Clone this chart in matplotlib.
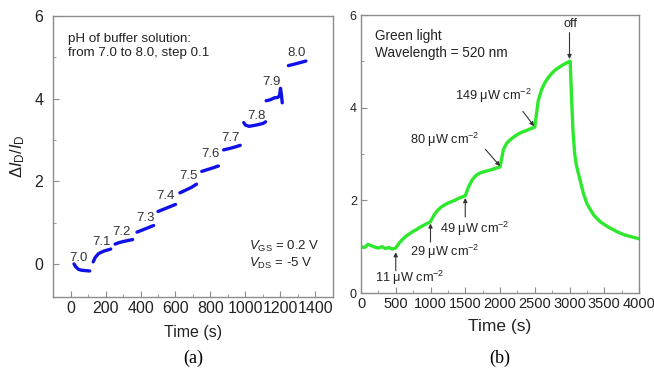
import matplotlib
matplotlib.use('Agg')
import matplotlib.pyplot as plt
from matplotlib.ticker import MultipleLocator

plt.rcParams['font.family'] = ['Liberation Sans', 'DejaVu Sans']
plt.rcParams['mathtext.fontset'] = 'custom'
plt.rcParams['mathtext.rm'] = 'Liberation Sans'
plt.rcParams['mathtext.it'] = 'Liberation Sans:italic'
plt.rcParams['mathtext.bf'] = 'Liberation Sans:bold'

# ---- panel (a): pH steps, one short segment per buffer
ph_labels = ['7.0', '7.1', '7.2', '7.3', '7.4', '7.5', '7.6', '7.7', '7.8', '7.9', '8.0']
ph_times = [
    [20, 30, 45, 60, 80, 110],
    [130, 140, 160, 190, 230],
    [255, 280, 310, 355],
    [380, 410, 440, 475],
    [500, 530, 565, 600],
    [625, 655, 690, 720],
    [750, 780, 810, 845],
    [875, 905, 940, 970],
    [990, 1000, 1020, 1060, 1100, 1115],
    [1118, 1140, 1165, 1185, 1195, 1200, 1205, 1210],
    [1245, 1275, 1310, 1345],
]
ph_values = [
    [0.0, -0.07, -0.13, -0.15, -0.16, -0.17],
    [0.05, 0.15, 0.25, 0.31, 0.36],
    [0.48, 0.52, 0.55, 0.59],
    [0.77, 0.82, 0.87, 0.93],
    [1.27, 1.32, 1.38, 1.44],
    [1.72, 1.78, 1.85, 1.93],
    [2.24, 2.28, 2.32, 2.37],
    [2.76, 2.79, 2.83, 2.87],
    [3.42, 3.36, 3.33, 3.36, 3.40, 3.44],
    [3.95, 3.97, 4.02, 4.03, 4.08, 4.25, 4.10, 3.90],
    [4.80, 4.83, 4.87, 4.91],
]
ph_label_t = [48, 177, 292, 428, 543, 674, 800, 915, 1063, 1150, 1293]
ph_label_v = [0.15, 0.53, 0.78, 1.12, 1.65, 2.14, 2.65, 3.04, 3.57, 4.40, 5.10]

# ---- panel (b): green light response
light_t = [0, 50, 100, 150, 200, 250, 300, 350, 400, 450, 500,
           550, 600, 650, 700, 750, 800, 850, 900, 950, 1000,
           1050, 1100, 1150, 1200, 1250, 1300, 1350, 1400, 1450, 1500,
           1550, 1600, 1650, 1700, 1750, 1800, 1850, 1900, 1950, 2000,
           2050, 2100, 2150, 2200, 2250, 2300, 2350, 2400, 2450, 2500,
           2550, 2600, 2650, 2700, 2750, 2800, 2850, 2900, 2950, 3000,
           3010, 3030, 3050, 3075, 3100, 3150, 3200, 3250, 3300, 3350,
           3400, 3450, 3500, 3550, 3600, 3650, 3700, 3750, 3800, 3850,
           3900, 3950, 4000]
light_v = [1.00, 0.98, 1.05, 1.02, 0.99, 0.97, 1.00, 0.96, 0.98, 0.95, 0.97,
           1.08, 1.16, 1.23, 1.28, 1.33, 1.37, 1.42, 1.46, 1.50, 1.54,
           1.68, 1.78, 1.85, 1.90, 1.94, 1.97, 2.00, 2.04, 2.07, 2.10,
           2.30, 2.44, 2.53, 2.58, 2.61, 2.63, 2.65, 2.67, 2.70, 2.72,
           3.10, 3.24, 3.31, 3.37, 3.42, 3.46, 3.49, 3.52, 3.55, 3.58,
           4.15, 4.40, 4.55, 4.66, 4.75, 4.82, 4.87, 4.92, 4.96, 5.00,
           5.00, 4.20, 3.50, 3.00, 2.75, 2.45, 2.15, 1.93, 1.80, 1.68,
           1.60, 1.53, 1.48, 1.43, 1.39, 1.35, 1.31, 1.28, 1.25, 1.23,
           1.21, 1.19, 1.17]

power_labels = ['11', '29', '49', '80', '149']
power_text_t = [705, 1209, 1640, 1209, 1900]
power_text_v = [0.32, 0.89, 1.38, 3.30, 4.25]
arrow_from_t = [500, 1000, 1500, 1790, 2330]
arrow_from_v = [0.48, 1.10, 1.64, 3.10, 3.92]
arrow_to_t = [500, 1000, 1500, 2000, 2490]
arrow_to_v = [0.88, 1.50, 2.05, 2.74, 3.60]

spine_col = '#8c8c8c'
text_col = '#222222'

fig = plt.figure(figsize=(6.54, 3.74), dpi=100)
ax1 = fig.add_axes([53 / 654, 1 - 297 / 374, 280 / 654, 281 / 374])
ax2 = fig.add_axes([361 / 654, 1 - 293 / 374, 278 / 654, 278 / 374])

for ax in (ax1, ax2):
    for s in ax.spines.values():
        s.set_color(spine_col)
        s.set_linewidth(1.0)
    ax.tick_params(which='both', direction='in', color=spine_col,
                   labelcolor=text_col, top=False, right=False)
    ax.tick_params(which='major', length=4)
    ax.tick_params(which='minor', length=2)

# panel (a)
for t, v in zip(ph_times, ph_values):
    ax1.plot(t, v, color='#1010e8', lw=2.4, solid_capstyle='round')
for lab, t, v in zip(ph_labels, ph_label_t, ph_label_v):
    ax1.text(t, v, lab, fontsize=9.5, color='#333333', ha='center', va='center')
ax1.set_xlim(-100, 1500)
ax1.set_ylim(-0.8, 6)
ax1.xaxis.set_major_locator(MultipleLocator(200))
ax1.xaxis.set_minor_locator(MultipleLocator(100))
ax1.yaxis.set_major_locator(MultipleLocator(2))
ax1.yaxis.set_minor_locator(MultipleLocator(1))
ax1.tick_params(axis='x', labelsize=11.5, pad=3)
ax1.tick_params(axis='y', labelsize=11.5, pad=7)
ax1.set_xlabel('Time (s)', fontsize=11.5, color=text_col, labelpad=6)
ax1.set_ylabel(r'$\mathit{ΔI}_\mathrm{D}/\mathit{I}_\mathrm{D}$',
               fontsize=12, color=text_col, labelpad=5)
ax1.text(0.055, 0.94, 'pH of buffer solution:\nfrom 7.0 to 8.0, step 0.1',
         transform=ax1.transAxes, fontsize=9.6, color=text_col,
         va='top', ha='left', linespacing=1.25)
ax1.text(0.7, 0.15, r'$V_\mathrm{GS}$ = 0.2 V' + '\n' + r'$V_\mathrm{DS}$ = -5 V',
         transform=ax1.transAxes, fontsize=9.5, color=text_col,
         va='center', ha='left', linespacing=1.2)

# panel (b)
ax2.plot(light_t, light_v, color='#2ee82e', lw=2.4)
ax2.set_xlim(0, 4000)
ax2.set_ylim(0, 6)
ax2.xaxis.set_major_locator(MultipleLocator(500))
ax2.xaxis.set_minor_locator(MultipleLocator(250))
ax2.yaxis.set_major_locator(MultipleLocator(2))
ax2.yaxis.set_minor_locator(MultipleLocator(1))
ax2.tick_params(axis='x', labelsize=10.5, pad=3)
ax2.tick_params(axis='y', labelsize=9, pad=3)
ax2.set_xlabel('Time (s)', fontsize=12.5, color=text_col, labelpad=6)
ax2.text(0.05, 0.95, 'Green light\nWavelength = 520 nm',
         transform=ax2.transAxes, fontsize=9.8, color=text_col,
         va='top', ha='left', linespacing=1.25)
for lab, tx, vx, t0, v0, t1, v1 in zip(power_labels, power_text_t, power_text_v,
                                       arrow_from_t, arrow_from_v,
                                       arrow_to_t, arrow_to_v):
    ax2.text(tx, vx, lab + r' μW cm$^{-2}$', fontsize=9.2, color=text_col,
             ha='center', va='center')
    ax2.annotate('', xy=(t1, v1), xytext=(t0, v0),
                 arrowprops=dict(arrowstyle='-|>', color='#333333', lw=0.8,
                                 mutation_scale=6, shrinkA=0, shrinkB=0))
ax2.text(3020, 5.81, 'off', fontsize=9.2, color=text_col, ha='center', va='center')
ax2.annotate('', xy=(3000, 5.05), xytext=(3000, 5.62),
             arrowprops=dict(arrowstyle='-|>', color='#333333', lw=0.8,
                             mutation_scale=6, shrinkA=0, shrinkB=0))

fig.text(193 / 654, 1 - 358 / 374, '(a)', fontsize=13, family='Liberation Serif',
         ha='center', va='center', color='black')
fig.text(500 / 654, 1 - 358 / 374, '(b)', fontsize=13, family='Liberation Serif',
         ha='center', va='center', color='black')

fig.savefig('out.png', dpi=100)
